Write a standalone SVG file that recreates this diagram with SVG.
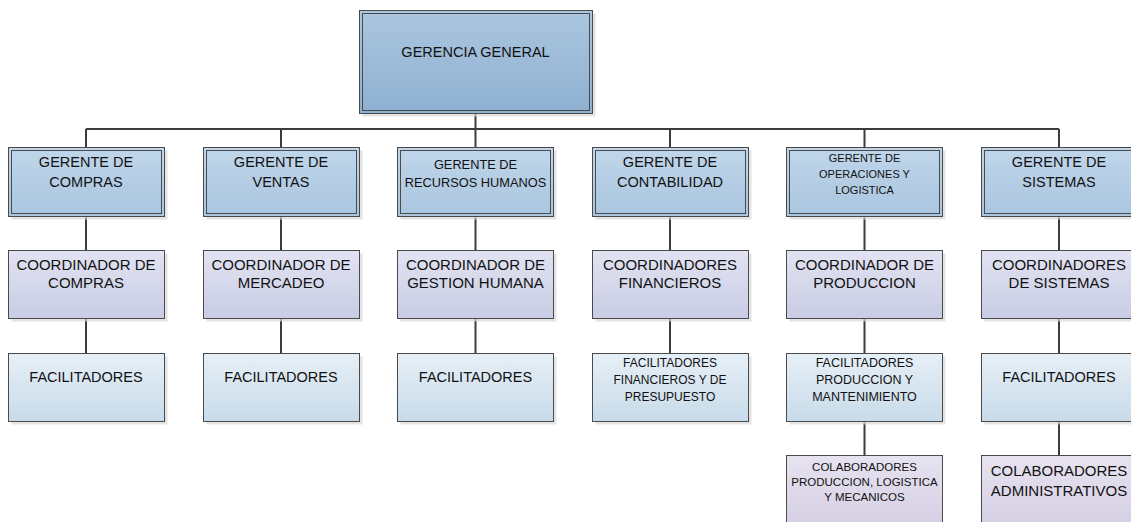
<svg xmlns="http://www.w3.org/2000/svg" width="1131" height="522" viewBox="0 0 1131 522">
<defs>
<linearGradient id="gTop" x1="0" y1="0" x2="0" y2="1"><stop offset="0" stop-color="#abc6df"/><stop offset="1" stop-color="#8eb0d1"/></linearGradient>
<linearGradient id="gMgr" x1="0" y1="0" x2="0" y2="1"><stop offset="0" stop-color="#c0d6ea"/><stop offset="1" stop-color="#a9c5df"/></linearGradient>
<linearGradient id="gCoord" x1="0" y1="0" x2="0" y2="1"><stop offset="0" stop-color="#e2e3f2"/><stop offset="1" stop-color="#c8cce4"/></linearGradient>
<linearGradient id="gFac" x1="0" y1="0" x2="0" y2="1"><stop offset="0" stop-color="#e6eff6"/><stop offset="1" stop-color="#c8dbea"/></linearGradient>
<linearGradient id="gCol" x1="0" y1="0" x2="0" y2="1"><stop offset="0" stop-color="#e7e3f0"/><stop offset="1" stop-color="#d3cce2"/></linearGradient>
</defs>
<style>
.sh{fill:#d9d9d9;opacity:0.7}
.b{stroke:#4a4a4a;stroke-width:1}
.in{fill:none;stroke:#4a4a4a;stroke-width:1}
.top{fill:url(#gTop)}
.mgr{fill:url(#gMgr)}
.crd{fill:url(#gCoord)}
.fac{fill:url(#gFac)}
.col{fill:url(#gCol)}
text{font-family:"Liberation Sans",Arial,sans-serif;fill:#111;text-anchor:middle}
.c{stroke:#3c3c3c;stroke-width:2;fill:none}
</style>
<g id="connectors">
<path class="c" d="M475.5 113V129M86 129H1059M86 129V147M281 129V147M475.5 129V147M670 129V147M864.5 129V147M1059 129V147"/>
<path class="c" d="M86 216V250M281 216V250M475.5 216V250M670 216V250M864.5 216V250M1059 216V250"/>
<path class="c" d="M86 318V353M281 318V353M475.5 318V353M670 318V353M864.5 318V353M1059 318V353"/>
<path class="c" d="M864.5 421V455M1059 421V455"/>
</g>
<g id="gerencia">
<rect class="sh" x="362.5" y="13.5" width="233" height="103"/>
<rect class="top b" x="359.5" y="10.5" width="233" height="103"/>
<rect class="in" x="362.5" y="13.5" width="227" height="97"/>
<text x="475.5" y="57" font-size="14.5">GERENCIA GENERAL</text>
</g>
<g id="g-compras">
<rect class="sh" x="11.5" y="150.5" width="156" height="69"/>
<rect class="mgr b" x="8.5" y="147.5" width="156" height="69"/>
<rect class="in" x="11.5" y="150.5" width="150" height="63"/>
<text x="86" y="167" font-size="14.5">GERENTE DE</text>
<text x="86" y="187" font-size="14.5">COMPRAS</text>
</g>
<g id="g-ventas">
<rect class="sh" x="206.5" y="150.5" width="156" height="69"/>
<rect class="mgr b" x="203.5" y="147.5" width="156" height="69"/>
<rect class="in" x="206.5" y="150.5" width="150" height="63"/>
<text x="281" y="167" font-size="14.5">GERENTE DE</text>
<text x="281" y="187" font-size="14.5">VENTAS</text>
</g>
<g id="g-rrhh">
<rect class="sh" x="400.5" y="150.5" width="156" height="69"/>
<rect class="mgr b" x="397.5" y="147.5" width="156" height="69"/>
<rect class="in" x="400.5" y="150.5" width="150" height="63"/>
<text x="475.5" y="168.5" font-size="12.8">GERENTE DE</text>
<text x="475.5" y="186.5" font-size="12.8">RECURSOS HUMANOS</text>
</g>
<g id="g-contabilidad">
<rect class="sh" x="595.5" y="150.5" width="156" height="69"/>
<rect class="mgr b" x="592.5" y="147.5" width="156" height="69"/>
<rect class="in" x="595.5" y="150.5" width="150" height="63"/>
<text x="670" y="167" font-size="14.5">GERENTE DE</text>
<text x="670" y="187" font-size="14.5">CONTABILIDAD</text>
</g>
<g id="g-operaciones">
<rect class="sh" x="789.5" y="150.5" width="156" height="69"/>
<rect class="mgr b" x="786.5" y="147.5" width="156" height="69"/>
<rect class="in" x="789.5" y="150.5" width="150" height="63"/>
<text x="864.5" y="162" font-size="11">GERENTE DE</text>
<text x="864.5" y="178" font-size="11">OPERACIONES Y</text>
<text x="864.5" y="194" font-size="11">LOGISTICA</text>
</g>
<g id="g-sistemas">
<rect class="sh" x="984.5" y="150.5" width="156" height="69"/>
<rect class="mgr b" x="981.5" y="147.5" width="156" height="69"/>
<rect class="in" x="984.5" y="150.5" width="150" height="63"/>
<text x="1059" y="167" font-size="14.5">GERENTE DE</text>
<text x="1059" y="187" font-size="14.5">SISTEMAS</text>
</g>
<g id="c-compras">
<rect class="sh" x="11.5" y="253.5" width="156" height="68"/>
<rect class="crd b" x="8.5" y="250.5" width="156" height="68"/>
<text x="86" y="270" font-size="15">COORDINADOR DE</text>
<text x="86" y="288" font-size="15">COMPRAS</text>
</g>
<g id="c-mercadeo">
<rect class="sh" x="206.5" y="253.5" width="156" height="68"/>
<rect class="crd b" x="203.5" y="250.5" width="156" height="68"/>
<text x="281" y="270" font-size="15">COORDINADOR DE</text>
<text x="281" y="288" font-size="15">MERCADEO</text>
</g>
<g id="c-gestion">
<rect class="sh" x="400.5" y="253.5" width="156" height="68"/>
<rect class="crd b" x="397.5" y="250.5" width="156" height="68"/>
<text x="475.5" y="270" font-size="15">COORDINADOR DE</text>
<text x="475.5" y="288" font-size="15">GESTION HUMANA</text>
</g>
<g id="c-financieros">
<rect class="sh" x="595.5" y="253.5" width="156" height="68"/>
<rect class="crd b" x="592.5" y="250.5" width="156" height="68"/>
<text x="670" y="270" font-size="15">COORDINADORES</text>
<text x="670" y="288" font-size="15">FINANCIEROS</text>
</g>
<g id="c-produccion">
<rect class="sh" x="789.5" y="253.5" width="156" height="68"/>
<rect class="crd b" x="786.5" y="250.5" width="156" height="68"/>
<text x="864.5" y="270" font-size="15">COORDINADOR DE</text>
<text x="864.5" y="288" font-size="15">PRODUCCION</text>
</g>
<g id="c-sistemas">
<rect class="sh" x="984.5" y="253.5" width="156" height="68"/>
<rect class="crd b" x="981.5" y="250.5" width="156" height="68"/>
<text x="1059" y="270" font-size="15">COORDINADORES</text>
<text x="1059" y="288" font-size="15">DE SISTEMAS</text>
</g>
<g id="f-compras">
<rect class="sh" x="11.5" y="356.5" width="156" height="68"/>
<rect class="fac b" x="8.5" y="353.5" width="156" height="68"/>
<text x="86" y="382" font-size="14.5">FACILITADORES</text>
</g>
<g id="f-ventas">
<rect class="sh" x="206.5" y="356.5" width="156" height="68"/>
<rect class="fac b" x="203.5" y="353.5" width="156" height="68"/>
<text x="281" y="382" font-size="14.5">FACILITADORES</text>
</g>
<g id="f-rrhh">
<rect class="sh" x="400.5" y="356.5" width="156" height="68"/>
<rect class="fac b" x="397.5" y="353.5" width="156" height="68"/>
<text x="475.5" y="382" font-size="14.5">FACILITADORES</text>
</g>
<g id="f-financieros">
<rect class="sh" x="595.5" y="356.5" width="156" height="68"/>
<rect class="fac b" x="592.5" y="353.5" width="156" height="68"/>
<text x="670" y="366.5" font-size="12">FACILITADORES</text>
<text x="670" y="383.5" font-size="12">FINANCIEROS Y DE</text>
<text x="670" y="400.5" font-size="12">PRESUPUESTO</text>
</g>
<g id="f-produccion">
<rect class="sh" x="789.5" y="356.5" width="156" height="68"/>
<rect class="fac b" x="786.5" y="353.5" width="156" height="68"/>
<text x="864.5" y="366.5" font-size="12.5">FACILITADORES</text>
<text x="864.5" y="383.5" font-size="12.5">PRODUCCION Y</text>
<text x="864.5" y="400.5" font-size="12.5">MANTENIMIENTO</text>
</g>
<g id="f-sistemas">
<rect class="sh" x="984.5" y="356.5" width="156" height="68"/>
<rect class="fac b" x="981.5" y="353.5" width="156" height="68"/>
<text x="1059" y="382" font-size="14.5">FACILITADORES</text>
</g>
<g id="col-produccion">
<rect class="col b" x="786.5" y="455.5" width="156" height="80"/>
<text x="864.5" y="471" font-size="11.5">COLABORADORES</text>
<text x="864.5" y="486" font-size="11.5">PRODUCCION, LOGISTICA</text>
<text x="864.5" y="501" font-size="11.5">Y MECANICOS</text>
</g>
<g id="col-administrativos">
<rect class="col b" x="981.5" y="455.5" width="156" height="80"/>
<text x="1059" y="475.5" font-size="15">COLABORADORES</text>
<text x="1059" y="495.5" font-size="15">ADMINISTRATIVOS</text>
</g>
</svg>
